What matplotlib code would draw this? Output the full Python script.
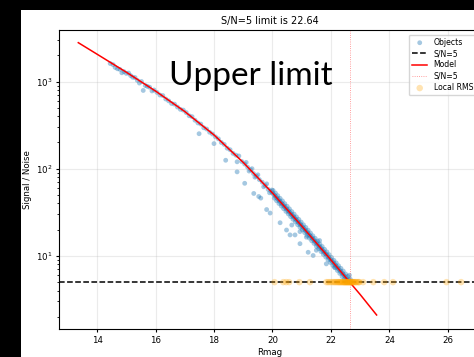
import matplotlib.pyplot as plt
from matplotlib.patches import Rectangle

# model curve
model_mag = [13.36, 14.0, 15.0, 16.0, 17.0, 18.0, 19.0, 20.0, 21.0, 22.0, 22.64, 23.0, 23.56]
model_sn = [2790, 2060, 1280, 778, 453, 244, 118, 52.6, 22.0, 8.97, 5.0, 3.6, 2.1]

# detected objects
obj_mag = [
    14.45, 14.55, 14.62, 14.70, 14.78, 14.85, 14.92, 15.00, 15.08, 15.15, 15.22, 15.30,
    15.38, 15.45, 15.52, 15.58, 15.65, 15.72, 15.80, 15.88, 15.95, 16.05, 16.15, 16.25,
    16.35, 16.45, 16.55, 16.65, 16.75, 16.85, 16.95,
    17.05, 17.15, 17.25, 17.35, 17.45, 17.49, 17.55, 17.65, 17.75, 17.85, 17.95, 18.00,
    18.05, 18.15, 18.25, 18.35, 18.40, 18.45, 18.55, 18.65, 18.75, 18.79, 18.79, 18.85,
    18.95, 19.05, 19.05, 19.15, 19.25, 19.35, 19.36, 19.45, 19.53, 19.55, 19.60, 19.65,
    19.75, 19.80, 19.85, 19.92, 19.95,
    19.10, 19.20, 19.30, 19.40, 19.50, 19.70, 19.80, 19.90, 19.98,
    20.26, 20.48, 20.60, 20.66, 20.77, 20.94, 20.94, 21.16, 21.22, 21.39, 21.50, 21.61,
    21.84, 22.12, 22.63,
    20.00, 20.04, 20.08, 20.12, 20.16, 20.20, 20.24, 20.28, 20.32, 20.36, 20.40, 20.44,
    20.48, 20.52, 20.56, 20.60, 20.64, 20.68, 20.72, 20.76, 20.80, 20.84, 20.88, 20.92,
    20.96, 21.00, 21.04, 21.08, 21.12, 21.16, 21.20, 21.24, 21.28, 21.32, 21.36, 21.40,
    21.44, 21.48, 21.52, 21.56, 21.60, 21.64, 21.68, 21.72, 21.76, 21.80, 21.84, 21.88,
    21.92, 21.96, 22.00, 22.04, 22.08, 22.12, 22.16, 22.20, 22.24, 22.28, 22.32, 22.36,
    22.40, 22.44, 22.48, 22.52, 22.56, 22.60, 22.64,
    20.02, 20.10, 20.18, 20.26, 20.34, 20.42, 20.50, 20.58, 20.66, 20.74, 20.82, 20.90,
    20.98, 21.06, 21.14, 21.22, 21.30, 21.38, 21.46, 21.54, 21.62, 21.70, 21.78, 21.86,
    21.94, 22.02, 22.10, 22.18, 22.26, 22.34, 22.42, 22.50, 22.58, 22.66,
    20.06, 20.14, 20.22, 20.30, 20.38, 20.46, 20.54, 20.62, 20.70, 20.78, 20.86, 20.94,
    21.02, 21.10, 21.18, 21.26, 21.34, 21.42, 21.50, 21.58, 21.66, 21.74, 21.82, 21.90,
    21.98, 22.06, 22.14, 22.22, 22.30, 22.38, 22.46, 22.54,
]
obj_sn = [
    1610, 1560, 1450, 1400, 1380, 1260, 1300, 1240, 1250, 1170, 1120, 1110,
    1030, 960, 1000, 790, 900, 880, 860, 780, 800, 750, 700, 690,
    630, 600, 560, 550, 510, 480, 470,
    440, 405, 395, 360, 335, 252, 325, 295, 285, 262, 250, 194,
    232, 220, 200, 190, 125, 172, 165, 150, 143, 120, 92, 140,
    121, 113, 68, 104, 97, 88, 52, 82, 48, 75, 46, 70,
    64, 34, 58, 31, 55,
    118, 94, 100, 80, 85, 62, 67, 53, 57,
    24, 19.8, 17.4, 22.6, 17.4, 19, 13.8, 16.4, 11.0, 10.1, 11.6, 15,
    8.1, 7.4, 6.0,
    52.6, 50.8, 49.1, 47.4, 45.8, 44.2, 42.7, 41.2, 39.8, 38.5, 37.1, 35.8,
    34.6, 33.4, 32.3, 31.2, 30.1, 29.0, 28.1, 27.1, 26.2, 25.3, 24.4, 23.6,
    22.8, 22.0, 21.2, 20.5, 19.7, 19.1, 18.4, 17.7, 17.1, 16.5, 15.9, 15.4,
    14.8, 14.3, 13.8, 13.3, 12.8, 12.4, 12.0, 11.5, 11.1, 10.7, 10.4, 10.0,
    9.64, 9.30, 8.97, 8.65, 8.34, 8.04, 7.75, 7.47, 7.21, 6.95, 6.70, 6.46,
    6.23, 6.00, 5.79, 5.58, 5.38, 5.19, 5.00,
    56.3, 52.6, 49.0, 45.7, 42.7, 39.7, 37.1, 34.6, 32.2, 30.1, 28.0, 26.2,
    24.4, 22.7, 21.2, 19.7, 18.3, 17.0, 15.9, 14.8, 13.7, 12.8, 11.9, 11.1,
    10.3, 9.6, 8.9, 8.3, 7.7, 7.2, 6.7, 6.2, 5.8, 5.4,
    46.0, 42.9, 39.9, 37.3, 34.8, 32.4, 30.3, 28.2, 26.3, 24.5, 22.8, 21.3,
    19.9, 18.5, 17.2, 16.0, 14.9, 13.9, 12.9, 12.1, 11.2, 10.4, 9.7, 9.0,
    8.4, 7.8, 7.3, 6.8, 6.3, 5.8, 5.4, 5.0,
]

# local RMS estimates, all at S/N = 5
rms_mag = [
    20.07, 20.37, 20.47, 20.57, 20.92, 21.28,
    21.84, 21.90, 21.96, 22.02, 22.08, 22.12, 22.16, 22.20, 22.24, 22.27, 22.30, 22.33,
    22.36, 22.39, 22.42, 22.44, 22.46, 22.48, 22.50, 22.52, 22.54, 22.56, 22.58, 22.60,
    22.62, 22.64, 22.66, 22.68, 22.70, 22.72, 22.74, 22.76, 22.78, 22.81, 22.84, 22.87,
    22.91, 22.95, 22.97,
    23.10, 23.45, 23.82, 24.12, 25.95, 26.45,
]
sn_limit = 5
mag_limit = 22.64

fig = plt.figure(figsize=(4.74, 3.57), dpi=100, facecolor='black')
fig.add_artist(Rectangle((21 / 474, 0), 1, 347 / 357, transform=fig.transFigure,
                         facecolor='white', edgecolor='none', zorder=-1))
ax = fig.add_axes([59 / 474, 28 / 357, 422 / 474, 299 / 357])

ax.scatter(obj_mag, obj_sn, s=12, alpha=0.4, color='C0', edgecolors='none', label='Objects')
ax.axhline(sn_limit, color='black', ls='--', lw=1.1, label='S/N=5')
ax.plot(model_mag, model_sn, color='red', lw=1.1, label='Model')
ax.axvline(mag_limit, color='red', ls=':', lw=0.6, alpha=0.5, label='S/N=5')
ax.scatter(rms_mag, [sn_limit] * len(rms_mag), s=22, alpha=0.3, color='orange',
           edgecolors='none', label='Local RMS', zorder=3)

ax.set_yscale('log')
ax.set_xlim(12.70, 27.13)
ax.set_ylim(1.45, 3900)
ax.grid(alpha=0.25)
ax.set_xticks([14, 16, 18, 20, 22, 24, 26])
ax.tick_params(axis='both', labelsize=6.2, length=2.5, pad=2.5)
ax.tick_params(axis='y', which='minor', length=1.5)
ax.set_title('S/N=5 limit is 22.64', fontsize=7, pad=4)
ax.set_xlabel('Rmag', fontsize=6.2, labelpad=2)
ax.set_ylabel('Signal / Noise', fontsize=6.2, labelpad=3)
ax.legend(loc='upper right', fontsize=5.6, labelspacing=0.3, handlelength=2.0,
          borderaxespad=0.6)

fig.text(251 / 474, (357 - 85) / 357, 'Upper limit', fontsize=24, family='Lato',
         ha='center', va='baseline', color='black')

fig.savefig('out.png', dpi=100, facecolor=fig.get_facecolor())
